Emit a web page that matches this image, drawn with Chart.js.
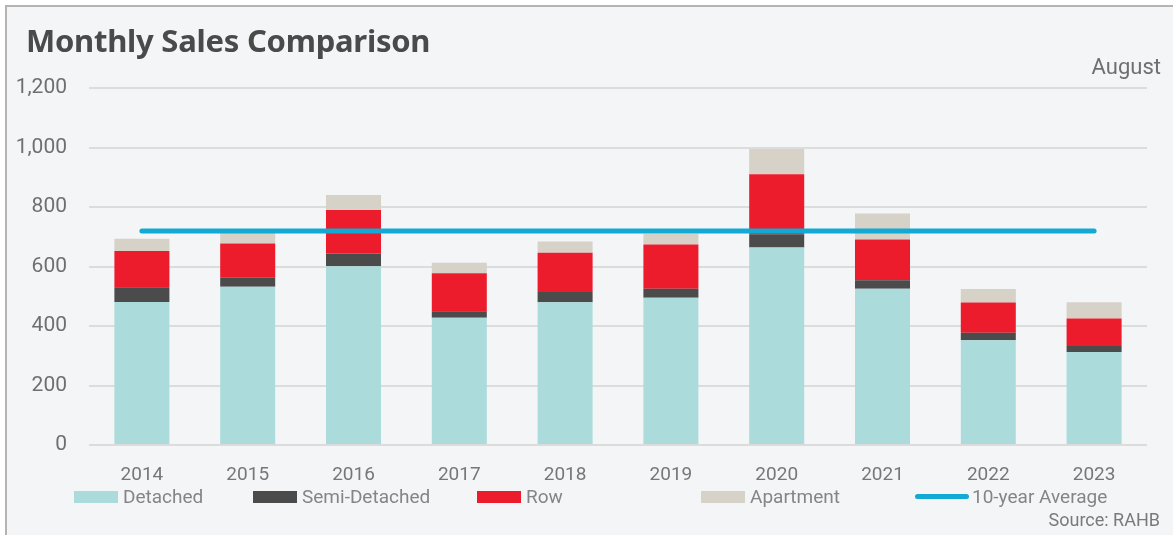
<!DOCTYPE html>
<html lang="en">
<head>
  <meta charset="UTF-8" />
  <title>Monthly Sales Comparison</title>
  <style>
    body {
      margin: 0;
      width: 1173px;
      height: 535px;
      overflow: hidden;
      background: #ffffff;
      font-family: Roboto, sans-serif;
      position: relative;
    }
    .frame {
      position: absolute;
      left: 5px;
      top: 5px;
      width: 1300px;
      height: 700px;
      border: 2px solid #b4b4b4;
      background: #f4f5f7;
    }
    #chartCanvas {
      position: absolute;
      left: 0;
      top: 0;
    }
    h1 {
      position: absolute;
      left: 26px;
      top: 19px;
      margin: 0;
      font-family: 'Noto Sans', sans-serif;
      font-size: 31px;
      font-weight: 700;
      color: #4a4a4a;
      letter-spacing: -0.25px;
    }
    .month {
      position: absolute;
      right: 12px;
      top: 54px;
      font-size: 22px;
      color: #6f6f6f;
    }
    .source {
      position: absolute;
      right: 13px;
      top: 509px;
      font-size: 18px;
      color: #7a7a7a;
    }
    .legend-item {
      position: absolute;
      top: 485px;
      display: flex;
      align-items: center;
      font-size: 19px;
      color: #858585;
    }
    .legend-item .swatch {
      width: 44px;
      height: 12px;
      margin-right: 5px;
    }
    .legend-item .swatch.line {
      height: 5px;
      border-radius: 3px;
      width: 54px;
      margin-right: 3px;
    }
  </style>
</head>
<body>
  <div class="frame"></div>
  <canvas id="chartCanvas" width="1173" height="535"></canvas>
  <h1>Monthly Sales Comparison</h1>
  <div class="month">August</div>
  <div id="legend"></div>
  <div class="source">Source: RAHB</div>
  <script src="https://cdn.jsdelivr.net/npm/chart.js"></script>
  <script>
    const years = ['2014', '2015', '2016', '2017', '2018', '2019', '2020', '2021', '2022', '2023'];
    const detached = [481, 532, 601, 428, 480, 495, 664, 525, 352, 313];
    const semiDetached = [49, 30, 43, 22, 34, 30, 44, 29, 25, 20];
    const row = [122, 115, 146, 127, 132, 149, 202, 137, 102, 92];
    const apartment = [41, 37, 50, 36, 38, 36, 85, 87, 45, 55];
    const tenYearAverage = [719, 719, 719, 719, 719, 719, 719, 719, 719, 719];
    const yTicks = [0, 200, 400, 600, 800, 1000, 1200];

    const colors = {
      detached: '#abdcdb',
      semi: '#4b4b4b',
      row: '#ec1c2d',
      apartment: '#d6d2c7',
      average: '#13a9d5'
    };

    const bar = (label, data, color) => ({
      type: 'bar',
      label: label,
      data: data,
      backgroundColor: color,
      stack: 'sales',
      order: 1,
      categoryPercentage: 1,
      barPercentage: 0.52
    });

    const datasets = [
      bar('Detached', detached, colors.detached),
      bar('Semi-Detached', semiDetached, colors.semi),
      bar('Row', row, colors.row),
      bar('Apartment', apartment, colors.apartment),
      {
        type: 'line',
        label: '10-year Average',
        data: tenYearAverage,
        borderColor: colors.average,
        borderWidth: 5,
        borderCapStyle: 'round',
        pointRadius: 0,
        stack: 'avg',
        order: 0
      }
    ];

    // html legend, items sit at fixed columns like the original
    const legendX = [74, 253, 477, 701, 915];
    const legend = document.getElementById('legend');
    datasets.forEach((ds, i) => {
      const item = document.createElement('div');
      item.className = 'legend-item';
      item.style.left = legendX[i] + 'px';
      const sw = document.createElement('span');
      sw.className = 'swatch' + (ds.type === 'line' ? ' line' : '');
      sw.style.background = ds.type === 'line' ? ds.borderColor : ds.backgroundColor;
      item.appendChild(sw);
      item.appendChild(document.createTextNode(ds.label));
      legend.appendChild(item);
    });

    const ctx = document.getElementById('chartCanvas').getContext('2d');
    new Chart(ctx, {
      data: { labels: years, datasets: datasets },
      options: {
        responsive: false,
        animation: false,
        layout: { padding: { top: 88, left: 8, right: 26, bottom: 0 } },
        plugins: {
          legend: { display: false },
          tooltip: { enabled: false }
        },
        scales: {
          x: {
            stacked: true,
            grid: { display: false },
            border: { display: false },
            ticks: { color: '#777777', font: { family: 'Roboto', size: 19 }, padding: 11 },
            afterFit: (s) => { s.height = 90; }
          },
          y: {
            stacked: true,
            min: 0,
            max: 1200,
            afterBuildTicks: (s) => { s.ticks = yTicks.map(v => ({ value: v })); },
            grid: { color: '#dcdcdc', lineWidth: 2, drawTicks: false },
            border: { display: false },
            ticks: {
              color: '#6f6f6f',
              font: { family: 'Roboto', size: 21 },
              padding: 22,
              callback: (v) => v.toLocaleString('en-US')
            },
            afterFit: (s) => { s.width = 81; }
          }
        }
      }
    });
  </script>
</body>
</html>
